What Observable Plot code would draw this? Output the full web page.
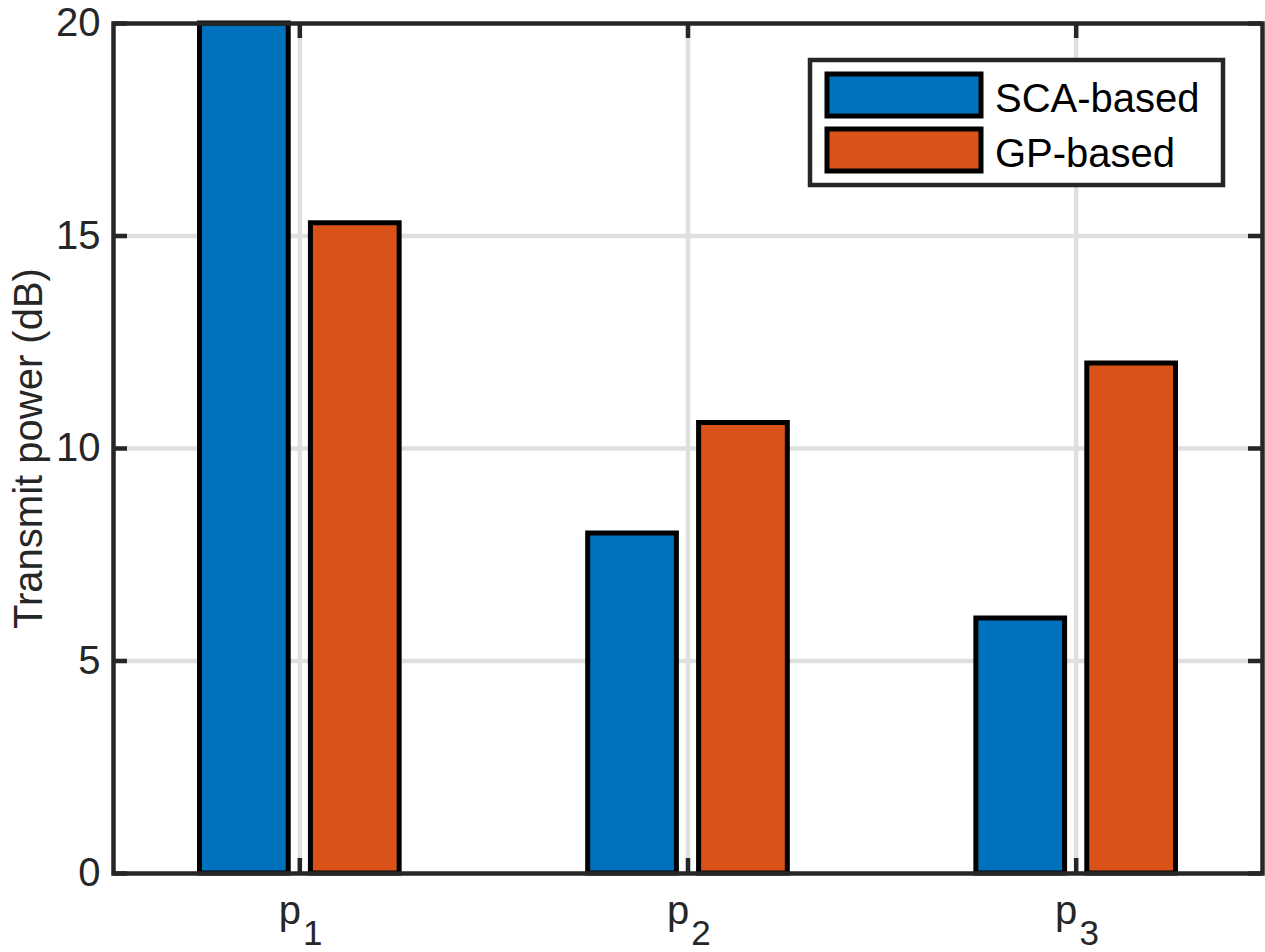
<!DOCTYPE html>
<html>
<head>
<meta charset="utf-8">
<script src="https://cdn.jsdelivr.net/npm/d3@7"></script>
<script src="https://cdn.jsdelivr.net/npm/@observablehq/plot@0.6"></script>
<style>
  html, body { margin: 0; padding: 0; background: #ffffff; }
  #chart { position: relative; width: 1265px; height: 952px; }
</style>
</head>
<body>
<div id="chart"></div>
<script>
// Transmit power per user for the two optimisation approaches
const groups = [1, 2, 3];
const groupSubscripts = ["1", "2", "3"];
const seriesNames = ["SCA-based", "GP-based"];
const scaPower = [20, 8, 6];
const gpPower = [15.3, 10.6, 12];
const yTicks = [0, 5, 10, 15, 20];
const yGrid = [5, 10, 15];

const colors = { "SCA-based": "#0072BD", "GP-based": "#D95319" };
const axisColor = "#262626";
const gridColor = "#dfdfdf";
const font = "'Liberation Sans', Arial, Helvetica, sans-serif";

const W = 1265, H = 952;
const margin = { top: 23, right: 3, bottom: 79, left: 113 };
const plotW = W - margin.left - margin.right;
const plotH = H - margin.top - margin.bottom;

// grouped bar geometry in x-units (two bars per group)
const groupWidth = 2 / 3.5;
const barWidth = (groupWidth / 2) * 0.8;
const offsets = [-groupWidth / 4, groupWidth / 4];

function barMark(values, k) {
  return Plot.rect(values, {
    x1: (d, i) => groups[i] + offsets[k] - barWidth / 2,
    x2: (d, i) => groups[i] + offsets[k] + barWidth / 2,
    y1: 0,
    y2: d => d,
    fill: colors[seriesNames[k]],
    stroke: "#000000",
    strokeWidth: 5
  });
}

const chart = Plot.plot({
  width: W,
  height: H,
  marginTop: margin.top,
  marginRight: margin.right,
  marginBottom: margin.bottom,
  marginLeft: margin.left,
  style: { fontFamily: font, background: "#ffffff" },
  x: { domain: [0.52, 3.48], axis: null },
  y: { domain: [0, 20], axis: null },
  marks: [
    Plot.gridY(yGrid, { stroke: gridColor, strokeOpacity: 1, strokeWidth: 4.5 }),
    Plot.gridX(groups, { stroke: gridColor, strokeOpacity: 1, strokeWidth: 4.5 }),
    barMark(scaPower, 0),
    barMark(gpPower, 1),
    // inward ticks on all four sides
    Plot.tickY(yTicks, { y: d => d, stroke: axisColor, strokeWidth: 4.5, insetRight: plotW - 14 }),
    Plot.tickY(yTicks, { y: d => d, stroke: axisColor, strokeWidth: 4.5, insetLeft: plotW - 14 }),
    Plot.tickX(groups, { x: d => d, stroke: axisColor, strokeWidth: 4.5, insetBottom: plotH - 15 }),
    Plot.tickX(groups, { x: d => d, stroke: axisColor, strokeWidth: 4.5, insetTop: plotH - 15 }),
    Plot.frame({ stroke: axisColor, strokeWidth: 4.5 }),
    Plot.axisY(yTicks, {
      tickSize: 0,
      tickPadding: 13,
      fontSize: 40,
      color: axisColor,
      label: null
    }),
    // category labels p with subscript index
    Plot.text(groups, {
      x: d => d,
      text: () => "p",
      frameAnchor: "bottom",
      lineAnchor: "top",
      dx: -10,
      dy: 22,
      fontSize: 40,
      fill: axisColor
    }),
    Plot.text(groups, {
      x: d => d,
      text: (d, i) => groupSubscripts[i],
      frameAnchor: "bottom",
      lineAnchor: "top",
      dx: 13,
      dy: 47,
      fontSize: 35,
      fill: axisColor
    }),
    Plot.text(["Transmit power (dB)"], {
      text: d => d,
      frameAnchor: "left",
      textAnchor: "middle",
      rotate: -90,
      dx: -84,
      fontSize: 40,
      fill: axisColor
    })
  ]
});

document.getElementById("chart").appendChild(chart);

// legend box inside the upper-right corner of the axes
const svg = d3.select(chart);
const legend = svg.append("g")
  .attr("font-family", font)
  .attr("text-anchor", "start");
legend.append("rect")
  .attr("x", 810).attr("y", 60).attr("width", 413).attr("height", 125)
  .attr("fill", "#ffffff").attr("stroke", axisColor).attr("stroke-width", 4.5);
seriesNames.forEach((name, k) => {
  const top = 74 + k * 55;
  legend.append("rect")
    .attr("x", 827).attr("y", top).attr("width", 154).attr("height", 42)
    .attr("fill", colors[name]).attr("stroke", "#000000").attr("stroke-width", 5);
  legend.append("text")
    .attr("x", 995).attr("y", top + 38)
    .attr("text-anchor", "start")
    .attr("font-size", 40).attr("fill", "#000000")
    .text(name);
});
</script>
</body>
</html>
